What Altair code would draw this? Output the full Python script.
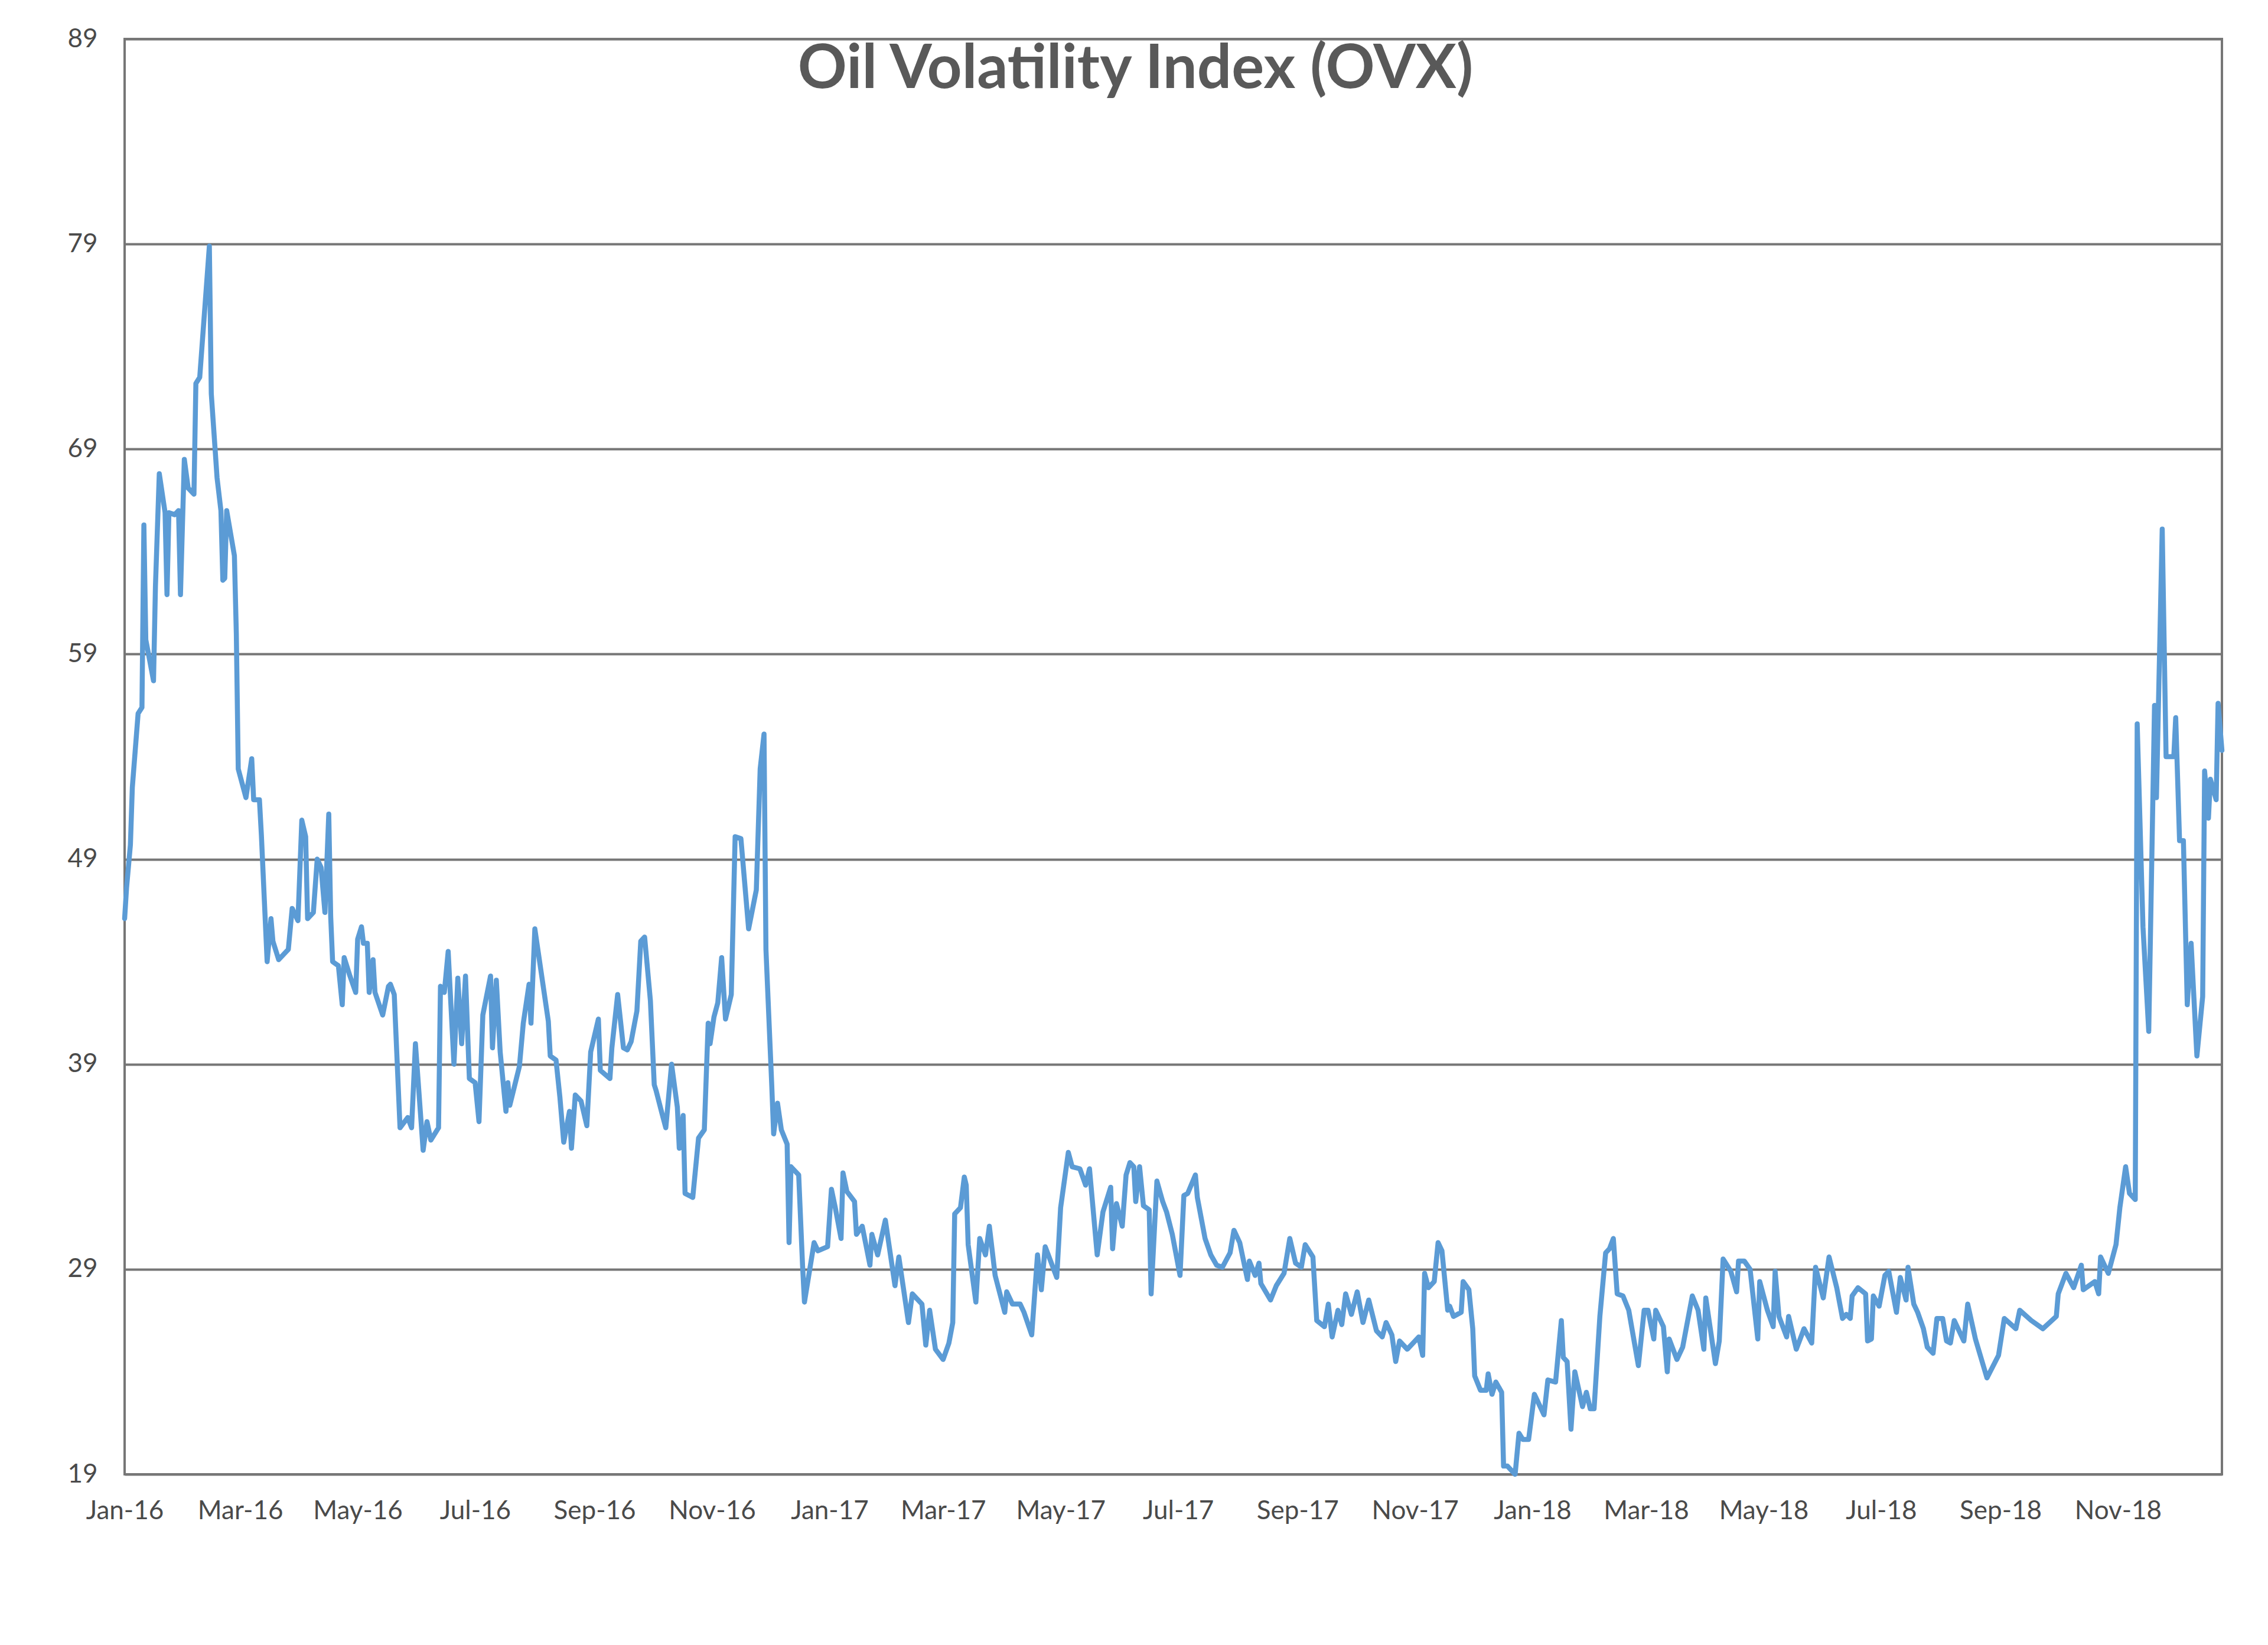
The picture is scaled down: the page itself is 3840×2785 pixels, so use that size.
import altair as alt
import pandas as pd

TITLE = "Oil Volatility Index (OVX)"

DATES_2016 = [
    "2016-01-04", "2016-01-05", "2016-01-07", "2016-01-08", "2016-01-11", "2016-01-13", "2016-01-14", "2016-01-15",
    "2016-01-19", "2016-01-20", "2016-01-22", "2016-01-25", "2016-01-26", "2016-01-27", "2016-01-30", "2016-02-01",
    "2016-02-02", "2016-02-04", "2016-02-06", "2016-02-09", "2016-02-10", "2016-02-12", "2016-02-17", "2016-02-18",
    "2016-02-21", "2016-02-23", "2016-02-24", "2016-02-25", "2016-02-26", "2016-03-01", "2016-03-02", "2016-03-03",
    "2016-03-07", "2016-03-10", "2016-03-11", "2016-03-14", "2016-03-15", "2016-03-18", "2016-03-20", "2016-03-21",
    "2016-03-24", "2016-03-29", "2016-03-31", "2016-04-03", "2016-04-05", "2016-04-07", "2016-04-08", "2016-04-11",
    "2016-04-13", "2016-04-15", "2016-04-17", "2016-04-19", "2016-04-20", "2016-04-21", "2016-04-24", "2016-04-26",
    "2016-04-27", "2016-04-30", "2016-05-03", "2016-05-04", "2016-05-06", "2016-05-07", "2016-05-09", "2016-05-10",
    "2016-05-12", "2016-05-13", "2016-05-17", "2016-05-20", "2016-05-21", "2016-05-23", "2016-05-26", "2016-05-30",
    "2016-06-01", "2016-06-03", "2016-06-07", "2016-06-09", "2016-06-11", "2016-06-15", "2016-06-16", "2016-06-18",
    "2016-06-20", "2016-06-23", "2016-06-25", "2016-06-27", "2016-06-29", "2016-07-01", "2016-07-04", "2016-07-06",
    "2016-07-08", "2016-07-12", "2016-07-13", "2016-07-15", "2016-07-17", "2016-07-20", "2016-07-21", "2016-07-22",
    "2016-07-27", "2016-07-29", "2016-08-01", "2016-08-02", "2016-08-04", "2016-08-11", "2016-08-12", "2016-08-15",
    "2016-08-17", "2016-08-19", "2016-08-22", "2016-08-23", "2016-08-25", "2016-08-28", "2016-08-31", "2016-09-02",
    "2016-09-06", "2016-09-07", "2016-09-12", "2016-09-13", "2016-09-16", "2016-09-19", "2016-09-21", "2016-09-23",
    "2016-09-26", "2016-09-28", "2016-09-30", "2016-10-03", "2016-10-05", "2016-10-06", "2016-10-09", "2016-10-11",
    "2016-10-14", "2016-10-17", "2016-10-18", "2016-10-20", "2016-10-21", "2016-10-25", "2016-10-28", "2016-10-31",
    "2016-11-02", "2016-11-03", "2016-11-05", "2016-11-07", "2016-11-09", "2016-11-11", "2016-11-14", "2016-11-16",
    "2016-11-19", "2016-11-23", "2016-11-27", "2016-11-29", "2016-12-01", "2016-12-02", "2016-12-05", "2016-12-06",
    "2016-12-08", "2016-12-10", "2016-12-13", "2016-12-14", "2016-12-15", "2016-12-19", "2016-12-21", "2016-12-22",
    "2016-12-27", "2016-12-29",
]
VALUES_2016 = [
    46.1, 47.6, 49.7, 52.5, 56.1, 56.4, 65.3, 59.7,
    57.7, 62.3, 67.8, 65.9, 61.9, 65.9, 65.8, 66.0,
    61.9, 68.5, 67.1, 66.8, 72.2, 72.5, 78.9, 71.7,
    67.6, 66.0, 62.6, 62.7, 66.0, 63.8, 60.0, 53.4,
    52.0, 53.9, 51.9, 51.9, 50.2, 44.0, 46.1, 45.0,
    44.1, 44.6, 46.6, 46.0, 50.9, 50.1, 46.1, 46.4,
    49.0, 48.6, 46.4, 51.2, 46.2, 44.0, 43.8, 41.9,
    44.2, 43.3, 42.5, 45.1, 45.7, 44.9, 44.9, 42.5,
    44.1, 42.5, 41.4, 42.8, 42.9, 42.4, 35.9, 36.4,
    35.9, 40.0, 34.8, 36.2, 35.3, 35.9, 42.8, 42.5,
    44.5, 39.0, 43.2, 40.0, 43.3, 38.3, 38.1, 36.2,
    41.4, 43.3, 39.8, 43.1, 39.6, 36.7, 38.1, 37.0,
    38.9, 41.0, 42.9, 41.0, 45.6, 41.1, 39.4, 39.2,
    37.4, 35.2, 36.7, 34.9, 37.5, 37.2, 36.0, 39.6,
    41.2, 38.7, 38.3, 39.8, 42.4, 39.8, 39.7, 40.1,
    41.6, 45.0, 45.2, 42.1, 38.0, 37.7, 36.6, 35.9,
    39.0, 36.9, 34.9, 36.5, 32.7, 32.5, 35.4, 35.8,
    41.0, 40.0, 41.3, 42.0, 44.2, 41.2, 42.4, 50.1,
    50.0, 45.6, 47.5, 53.4, 55.1, 44.6, 38.0, 35.6,
    37.1, 35.8, 35.1, 30.3, 34.0, 33.6, 29.2, 27.4,
    30.3, 29.9,
]

DATES_2017 = [
    "2017-01-03", "2017-01-05", "2017-01-07", "2017-01-10", "2017-01-11", "2017-01-13", "2017-01-17", "2017-01-18",
    "2017-01-21", "2017-01-25", "2017-01-26", "2017-01-29", "2017-02-02", "2017-02-07", "2017-02-09", "2017-02-14",
    "2017-02-16", "2017-02-21", "2017-02-23", "2017-02-25", "2017-02-28", "2017-03-04", "2017-03-07", "2017-03-09",
    "2017-03-10", "2017-03-13", "2017-03-15", "2017-03-16", "2017-03-17", "2017-03-21", "2017-03-23", "2017-03-26",
    "2017-03-28", "2017-03-31", "2017-04-05", "2017-04-06", "2017-04-09", "2017-04-13", "2017-04-15", "2017-04-19",
    "2017-04-22", "2017-04-24", "2017-04-26", "2017-04-28", "2017-05-02", "2017-05-04", "2017-05-08", "2017-05-10",
    "2017-05-14", "2017-05-17", "2017-05-19", "2017-05-23", "2017-05-26", "2017-05-30", "2017-05-31", "2017-06-02",
    "2017-06-05", "2017-06-07", "2017-06-09", "2017-06-11", "2017-06-12", "2017-06-14", "2017-06-16", "2017-06-19",
    "2017-06-20", "2017-06-23", "2017-06-26", "2017-06-28", "2017-07-01", "2017-07-05", "2017-07-07", "2017-07-09",
    "2017-07-13", "2017-07-14", "2017-07-18", "2017-07-21", "2017-07-24", "2017-07-27", "2017-07-31", "2017-08-02",
    "2017-08-05", "2017-08-09", "2017-08-10", "2017-08-13", "2017-08-15", "2017-08-16", "2017-08-21", "2017-08-24",
    "2017-08-28", "2017-08-31", "2017-09-03", "2017-09-06", "2017-09-08", "2017-09-12", "2017-09-14", "2017-09-18",
    "2017-09-20", "2017-09-22", "2017-09-25", "2017-09-27", "2017-09-29", "2017-10-02", "2017-10-05", "2017-10-08",
    "2017-10-11", "2017-10-15", "2017-10-18", "2017-10-20", "2017-10-23", "2017-10-25", "2017-10-27", "2017-10-31",
    "2017-11-03", "2017-11-06", "2017-11-08", "2017-11-09", "2017-11-11", "2017-11-14", "2017-11-16", "2017-11-18",
    "2017-11-21", "2017-11-22", "2017-11-24", "2017-11-28", "2017-11-29", "2017-12-02", "2017-12-04", "2017-12-05",
    "2017-12-08", "2017-12-11", "2017-12-12", "2017-12-14", "2017-12-16", "2017-12-19", "2017-12-20", "2017-12-22",
    "2017-12-26", "2017-12-28", "2017-12-30",
]
VALUES_2017 = [
    30.1, 32.9, 32.0, 30.5, 33.7, 32.8, 32.3, 30.7,
    31.1, 29.2, 30.7, 29.7, 31.4, 28.2, 29.6, 26.4,
    27.8, 27.3, 25.3, 27.0, 25.1, 24.6, 25.4, 26.4,
    31.7, 32.0, 33.5, 33.1, 30.2, 27.4, 30.5, 29.7,
    31.1, 28.7, 26.9, 27.9, 27.3, 27.3, 26.9, 25.8,
    29.7, 28.0, 30.1, 29.6, 28.6, 32.0, 34.7, 34.0,
    33.9, 33.1, 33.9, 29.7, 31.8, 33.0, 30.0, 32.2,
    31.1, 33.6, 34.2, 34.0, 32.3, 34.0, 32.1, 31.9,
    27.8, 33.3, 32.3, 31.8, 30.7, 28.7, 32.6, 32.7,
    33.6, 32.5, 30.5, 29.7, 29.2, 29.1, 29.8, 30.9,
    30.3, 28.5, 29.4, 28.7, 29.3, 28.3, 27.5, 28.2,
    28.8, 30.5, 29.3, 29.1, 30.2, 29.6, 26.5, 26.2,
    27.3, 25.7, 27.0, 26.3, 27.8, 26.8, 27.9, 26.4,
    27.5, 26.0, 25.7, 26.4, 25.8, 24.5, 25.5, 25.1,
    25.4, 25.7, 24.8, 28.8, 28.1, 28.4, 30.3, 29.9,
    27.0, 27.2, 26.7, 26.9, 28.4, 28.0, 26.1, 23.8,
    23.1, 23.1, 23.9, 22.9, 23.5, 23.0, 19.4, 19.4,
    19.0, 21.0, 20.7,
]

DATES_2018 = [
    "2018-01-02", "2018-01-05", "2018-01-09", "2018-01-10", "2018-01-12", "2018-01-16", "2018-01-19", "2018-01-20",
    "2018-01-22", "2018-01-24", "2018-01-26", "2018-01-30", "2018-02-01", "2018-02-03", "2018-02-05", "2018-02-08",
    "2018-02-11", "2018-02-13", "2018-02-15", "2018-02-17", "2018-02-20", "2018-02-23", "2018-02-28", "2018-03-03",
    "2018-03-05", "2018-03-08", "2018-03-09", "2018-03-13", "2018-03-15", "2018-03-16", "2018-03-20", "2018-03-23",
    "2018-03-25", "2018-03-28", "2018-03-31", "2018-04-03", "2018-04-04", "2018-04-09", "2018-04-11", "2018-04-13",
    "2018-04-17", "2018-04-20", "2018-04-21", "2018-04-24", "2018-04-27", "2018-05-01", "2018-05-02", "2018-05-06",
    "2018-05-09", "2018-05-10", "2018-05-12", "2018-05-16", "2018-05-17", "2018-05-21", "2018-05-25", "2018-05-29",
    "2018-05-31", "2018-06-04", "2018-06-07", "2018-06-11", "2018-06-14", "2018-06-16", "2018-06-18", "2018-06-19",
    "2018-06-22", "2018-06-26", "2018-06-27", "2018-06-29", "2018-06-30", "2018-07-03", "2018-07-06", "2018-07-08",
    "2018-07-12", "2018-07-14", "2018-07-17", "2018-07-18", "2018-07-21", "2018-07-23", "2018-07-26", "2018-07-28",
    "2018-07-31", "2018-08-02", "2018-08-05", "2018-08-07", "2018-08-09", "2018-08-11", "2018-08-16", "2018-08-18",
    "2018-08-22", "2018-08-28", "2018-09-03", "2018-09-06", "2018-09-12", "2018-09-14", "2018-09-20", "2018-09-26",
    "2018-10-03", "2018-10-04", "2018-10-08", "2018-10-12", "2018-10-16", "2018-10-17", "2018-10-23", "2018-10-25",
    "2018-10-26", "2018-10-30", "2018-11-03", "2018-11-05", "2018-11-08", "2018-11-10", "2018-11-13", "2018-11-14",
    "2018-11-17", "2018-11-20", "2018-11-23", "2018-11-24", "2018-11-27", "2018-11-29", "2018-12-03", "2018-12-04",
    "2018-12-06", "2018-12-08", "2018-12-10", "2018-12-12", "2018-12-15", "2018-12-18", "2018-12-19", "2018-12-21",
    "2018-12-22", "2018-12-25", "2018-12-26", "2018-12-28",
]
VALUES_2018 = [
    20.7, 22.9, 22.1, 21.9, 23.6, 23.5, 26.5, 24.7,
    24.5, 21.2, 24.0, 22.3, 23.0, 22.2, 22.2, 26.7,
    29.8, 30.0, 30.5, 27.8, 27.7, 27.0, 24.3, 27.0,
    27.0, 25.6, 27.0, 26.2, 24.0, 25.6, 24.6, 25.2,
    26.2, 27.7, 27.0, 25.1, 27.6, 24.4, 25.5, 29.5,
    28.9, 27.9, 29.4, 29.4, 29.0, 25.6, 28.4, 27.0,
    26.2, 28.9, 26.7, 25.7, 26.7, 25.1, 26.1, 25.4,
    29.1, 27.6, 29.6, 28.1, 26.6, 26.8, 26.6, 27.7,
    28.1, 27.8, 25.5, 25.6, 27.7, 27.2, 28.7, 28.9,
    26.9, 28.6, 27.5, 29.1, 27.3, 26.9, 26.1, 25.2,
    24.9, 26.6, 26.6, 25.5, 25.4, 26.5, 25.5, 27.3,
    25.6, 23.7, 24.8, 26.6, 26.1, 27.0, 26.5, 26.1,
    26.7, 27.8, 28.8, 28.1, 29.2, 28.0, 28.4, 27.8,
    29.6, 28.8, 30.2, 32.0, 34.0, 32.7, 32.4, 55.6,
    45.7, 40.6, 56.5, 52.0, 65.1, 54.0, 54.0, 55.9,
    49.9, 49.9, 41.9, 44.9, 39.4, 42.3, 53.3, 51.0,
    52.9, 51.9, 56.6, 54.3,
]

Y_TICKS = [19, 29, 39, 49, 59, 69, 79, 89]
X_TICK_DATES = [
    (2016, 1, 4), (2016, 3, 4), (2016, 5, 4), (2016, 7, 4), (2016, 9, 4), (2016, 11, 4),
    (2017, 1, 4), (2017, 3, 4), (2017, 5, 4), (2017, 7, 4), (2017, 9, 4), (2017, 11, 4),
    (2018, 1, 4), (2018, 3, 4), (2018, 5, 4), (2018, 7, 4), (2018, 9, 4), (2018, 11, 4),
]
X_START = (2016, 1, 4)
X_END = (2018, 12, 28)

df = pd.DataFrame({
    "date": pd.to_datetime(DATES_2016 + DATES_2017 + DATES_2018),
    "ovx": VALUES_2016 + VALUES_2017 + VALUES_2018,
})

def dt(t):
    return alt.DateTime(year=t[0], month=t[1], date=t[2])

GRID = "#767676"
TEXT = "#595959"
LABEL = "#4a4a4a"
FONT = "Lato"

chart = alt.Chart(df).mark_line(
    color="#5B9BD5", strokeWidth=8.5, strokeJoin="round", strokeCap="round"
).encode(
    x=alt.X(
        "date:T",
        title=None,
        scale=alt.Scale(domain=[dt(X_START), dt(X_END)]),
        axis=alt.Axis(
            values=[dt(t) for t in X_TICK_DATES],
            format="%b-%y",
            grid=False,
            domain=False,
            ticks=False,
            labelFont=FONT,
            labelFontSize=44,
            labelColor=LABEL,
            labelPadding=40,
            labelFlush=False,
            labelOverlap=False,
            labelAlign="center",
        ),
    ),
    y=alt.Y(
        "ovx:Q",
        title=None,
        scale=alt.Scale(domain=[19, 89], nice=False, zero=False),
        axis=alt.Axis(
            values=Y_TICKS,
            grid=True,
            gridColor=GRID,
            gridWidth=4,
            domain=False,
            ticks=False,
            labelFont=FONT,
            labelFontSize=44,
            labelColor=LABEL,
            labelPadding=46,
            labelBaseline="middle",
        ),
    ),
).properties(
    width=3551,
    height=2430,
    title=alt.TitleParams(
        text=TITLE,
        font=FONT,
        fontSize=103,
        fontWeight="bold",
        color=TEXT,
        anchor="middle",
        frame="group",
        baseline="alphabetic",
        offset=-100,
        dx=-64,
        dy=108,
    ),
    autosize=alt.AutoSizeParams(type="none"),
    padding={"left": 203, "top": 58, "right": 60, "bottom": 250},
    background="white",
).configure_view(
    stroke=GRID,
    strokeWidth=4,
)

chart.save("out.html", embed_options={"renderer": "svg", "actions": False})
